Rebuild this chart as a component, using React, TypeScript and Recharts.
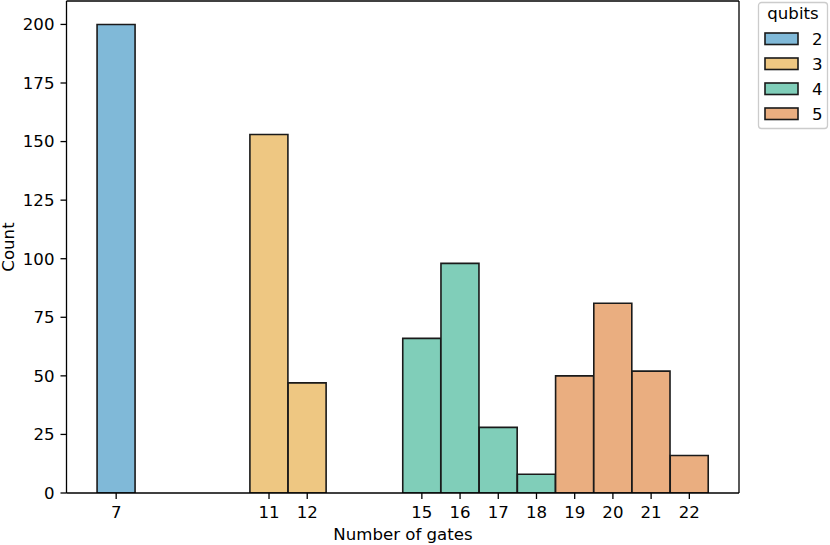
import { BarChart, Bar, XAxis, YAxis, Cell, ReferenceLine } from "recharts";

// histogram of circuit sizes, one hue per qubit count
const gates = [7, 11, 12, 15, 16, 17, 18, 19, 20, 21, 22];
const counts = [200, 153, 47, 66, 98, 28, 8, 50, 81, 52, 16];
const qubitOf = [2, 3, 3, 4, 4, 4, 4, 5, 5, 5, 5];
const qubitLevels = [2, 3, 4, 5];
const qubitColors = ["#80b9d8", "#eec782", "#80ceb9", "#eaae80"];
const countTicks = [0, 25, 50, 75, 100, 125, 150, 175, 200];

const X_DOMAIN = [5.7, 23.3];
const Y_DOMAIN = [0, 210];

const rows = gates.map((g, i) => ({ gates: g, count: counts[i], qubits: qubitOf[i] }));

const FONT = "'DejaVu Sans', sans-serif";
const FS = 16.6;
const tickStyle = { fontSize: FS, fill: "#000", fontFamily: FONT };
const spine = { stroke: "#000", strokeWidth: 1.3 };

export default function App() {
  return (
    <div style={{ position: "absolute", left: 0, top: 0, width: 830, height: 545, background: "#fff" }}>
      <BarChart
        width={830}
        height={545}
        data={rows}
        margin={{ top: 1, right: 91, bottom: 12, left: 6.5 }}
        barCategoryGap={0}
        barGap={0}
      >
        <XAxis
          dataKey="gates"
          type="number"
          domain={X_DOMAIN}
          ticks={gates}
          allowDataOverflow
          height={40}
          tickSize={6}
          tickMargin={7}
          interval={0}
          tick={tickStyle}
          axisLine={spine}
          tickLine={spine}
          label={{
            content: () => (
              <text x={403} y={540} textAnchor="middle" fontSize={FS} fontFamily={FONT} fill="#000">
                Number of gates
              </text>
            ),
          }}
        />
        <YAxis
          type="number"
          domain={Y_DOMAIN}
          ticks={countTicks}
          allowDataOverflow
          width={60}
          tickSize={6}
          tickMargin={6}
          interval={0}
          tick={tickStyle}
          axisLine={spine}
          tickLine={spine}
          label={{
            content: () => (
              <text
                x={14}
                y={247}
                transform="rotate(-90 14 247)"
                textAnchor="middle"
                fontSize={FS}
                fontFamily={FONT}
                fill="#000"
              >
                Count
              </text>
            ),
          }}
        />
        <Bar dataKey="count" stroke="#1a1a1a" strokeWidth={1.6} isAnimationActive={false}>
          {rows.map((r, i) => (
            <Cell key={i} fill={qubitColors[qubitLevels.indexOf(r.qubits)]} />
          ))}
        </Bar>
        {/* top and right spines */}
        <ReferenceLine y={Y_DOMAIN[1]} stroke="#000" strokeWidth={1.3} ifOverflow="visible" />
        <ReferenceLine x={X_DOMAIN[1]} stroke="#000" strokeWidth={1.3} ifOverflow="visible" />
      </BarChart>

      <svg
        width={830}
        height={545}
        style={{ position: "absolute", left: 0, top: 0, pointerEvents: "none" }}
      >
        <rect x={758.5} y={2.5} width={69} height={126} rx={3} fill="#fff" fillOpacity={0.8} stroke="#cccccc" strokeWidth={1.3} />
        <text x={793} y={19} textAnchor="middle" fontSize={FS} fontFamily={FONT} fill="#000">
          qubits
        </text>
        {qubitLevels.map((q, i) => (
          <g key={q}>
            <rect
              x={765}
              y={33 + i * 25}
              width={33}
              height={11.5}
              fill={qubitColors[i]}
              stroke="#1a1a1a"
              strokeWidth={1.6}
            />
            <text x={812} y={45 + i * 25} fontSize={FS} fontFamily={FONT} fill="#000">
              {q}
            </text>
          </g>
        ))}
      </svg>
    </div>
  );
}
